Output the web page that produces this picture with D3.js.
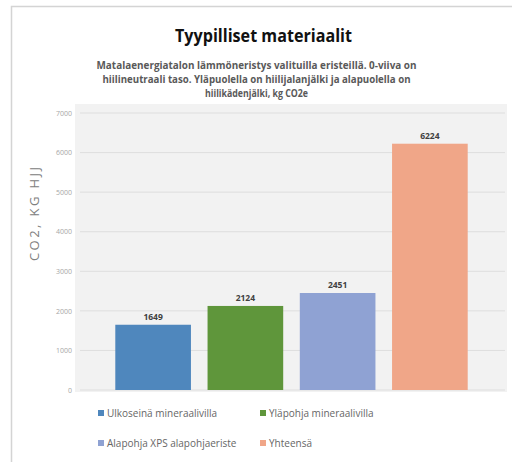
<!DOCTYPE html>
<html><head><meta charset="utf-8">
<script src="https://cdn.jsdelivr.net/npm/d3@7"></script>
<style>body{margin:0;background:#fff;}svg{display:block;font-family:"Open Sans","Noto Sans",sans-serif;}</style>
</head><body>
<svg id="c" width="512" height="462"></svg>
<script>
const categories = ["Ulkoseinä mineraalivilla","Yläpohja mineraalivilla","Alapohja XPS alapohjaeriste","Yhteensä"];
const values = [1649, 2124, 2451, 6224];
const colors = ["#4f87bd","#5f963b","#8fa2d3","#f0a688"];
const yTicks = [0,1000,2000,3000,4000,5000,6000,7000];
const title = "Tyypilliset materiaalit";
const subtitle = ["Matalaenergiatalon lämmöneristys valituilla eristeillä. 0-viiva on","hiilineutraali taso. Yläpuolella on hiilijalanjälki ja alapuolella on","hiilikädenjälki, kg CO2e"];
const yTitle = "CO2, KG HJJ";

const svg = d3.select("#c");
svg.append("rect").attr("x",11.5).attr("y",6.5).attr("width",520).attr("height",480)
  .attr("fill","#fff").attr("stroke","#d4d4d4").attr("stroke-width",1.5);

svg.append("rect").attr("x",75).attr("y",104).attr("width",432).attr("height",288).attr("fill","#f2f2f2");

const y = d3.scaleLinear().domain([0,7000]).range([390,113]);
const x = d3.scaleBand().domain(categories).range([107,476]).paddingInner(0.18).paddingOuter(0.09);

const yAxis = d3.axisLeft(y).tickValues(yTicks).tickSize(0).tickPadding(8).tickFormat(d3.format("d"));
const ga = svg.append("g").attr("transform","translate(80,0)").call(yAxis);
ga.select(".domain").remove();
ga.selectAll("text").attr("fill","#a6a6a6").attr("font-size",7).attr("font-family","Open Sans");
svg.append("g").selectAll("line").data(yTicks).join("line")
  .attr("x1",80).attr("x2",505).attr("y1",d=>y(d)).attr("y2",d=>y(d))
  .attr("stroke","#dedede").attr("stroke-width",1);

svg.append("g").selectAll("rect").data(values).join("rect")
  .attr("x",(d,i)=>x(categories[i])).attr("width",x.bandwidth())
  .attr("y",d=>y(d)).attr("height",d=>y(0)-y(d))
  .attr("fill",(d,i)=>colors[i]);

svg.append("g").selectAll("text").data(values).join("text")
  .attr("x",(d,i)=>x(categories[i])+x.bandwidth()/2).attr("y",d=>y(d)-5)
  .attr("text-anchor","middle").attr("font-size",8.5).attr("font-weight","bold").attr("fill","#404040")
  .text(d=>d);

svg.append("text").attr("x",263.5).attr("y",42).attr("text-anchor","middle")
  .attr("font-size",18).attr("font-weight","bold").attr("fill","#111")
  .attr("textLength",177).attr("lengthAdjust","spacingAndGlyphs").text(title);

const subW = [320, 308, 103];
svg.append("g").selectAll("text").data(subtitle).join("text")
  .attr("x",256.5).attr("y",(d,i)=>69+i*14).attr("text-anchor","middle")
  .attr("font-size",11).attr("font-weight","bold").attr("fill","#595959")
  .attr("textLength",(d,i)=>subW[i]).attr("lengthAdjust","spacingAndGlyphs").text(d=>d);

svg.append("text").attr("transform","translate(39,214) rotate(-90)").attr("text-anchor","middle")
  .attr("font-size",13).attr("fill","#808080").attr("textLength",94).attr("lengthAdjust","spacing").text(yTitle);

const legPos = [[98,413],[260,413],[98,443],[260,443]];
const lg = svg.append("g").selectAll("g").data(categories).join("g")
  .attr("transform",(d,i)=>`translate(${legPos[i][0]},${legPos[i][1]})`);
lg.append("rect").attr("x",0).attr("y",-3).attr("width",6).attr("height",6).attr("fill",(d,i)=>colors[i]);
lg.append("text").attr("x",9).attr("y",3.5).attr("font-size",10).attr("fill","#666666").text(d=>d);
</script>
</body></html>
